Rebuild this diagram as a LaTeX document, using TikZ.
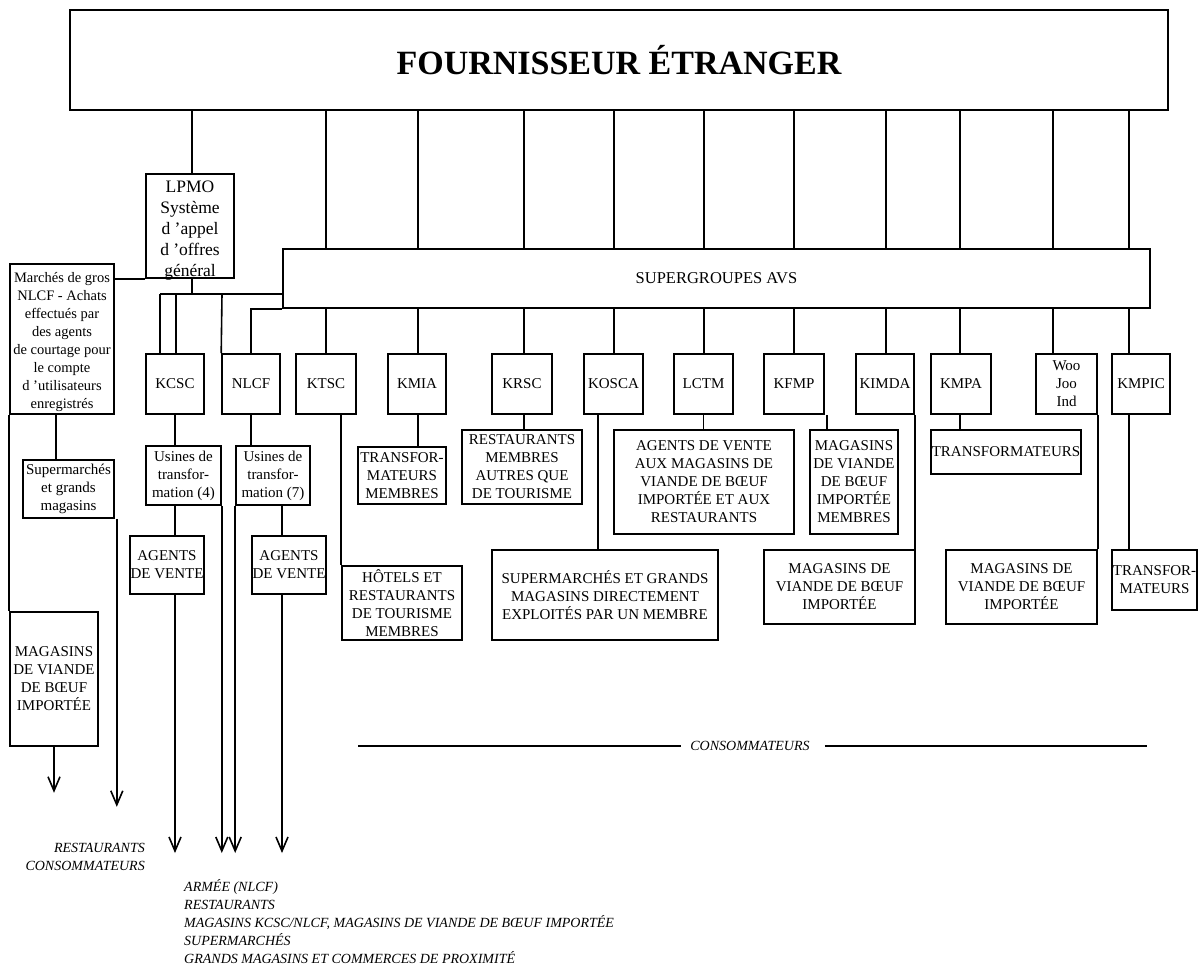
\documentclass[tikz,border=0pt]{standalone}
\usepackage{fontspec}
\setmainfont{Liberation Serif}
\usetikzlibrary{arrows.meta,calc}
\begin{document}
\begin{tikzpicture}[x=1pt,y=-1pt,
  every node/.style={inner sep=0pt, align=center},
  bx/.style={draw, line width=1.6pt, fill=white, font=\fontsize{15}{18}\selectfont},
  ln/.style={line width=1.6pt},
  arr/.style={line width=1.6pt, -{Straight Barb[length=14pt,width=12pt]}},
  lbl/.style={font=\fontsize{14}{18}\selectfont\itshape}]
\useasboundingbox (0,0) rectangle (1199,966);

% top level
\node[bx, minimum width=1098pt, minimum height=100pt, font=\fontsize{34}{40}\selectfont\bfseries] (top) at (619,60) {FOURNISSEUR ÉTRANGER};
\node[bx, minimum width=867pt, minimum height=59pt, font=\fontsize{16.5}{19}\selectfont] (sg) at (716.5,278.5) {SUPERGROUPES AVS};
\node[bx, minimum width=88pt, minimum height=104pt] (lpmo) at (190,226) {};
\node[font=\fontsize{17.5}{21}\selectfont] (lpmotext) at ($(lpmo.center)+(0,5)$) {LPMO\\Système\\d ’appel\\d ’offres\\général};
\node[bx, minimum width=104pt, minimum height=150pt, font=\fontsize{14.5}{18}\selectfont] (marches) at (62,339) {\rule{0pt}{17pt}Marchés de gros\\NLCF - Achats\\effectués par\\des agents\\de courtage pour\\le compte\\d ’utilisateurs\\enregistrés};

% row of members
\node[bx, minimum width=58pt, minimum height=60pt] (kcsc) at (175,384) {KCSC};
\node[bx, minimum width=58pt, minimum height=60pt] (nlcf) at (251,384) {NLCF};
\node[bx, minimum width=60pt, minimum height=60pt] (ktsc) at (326,384) {KTSC};
\node[bx, minimum width=58pt, minimum height=60pt] (kmia) at (417,384) {KMIA};
\node[bx, minimum width=60pt, minimum height=60pt] (krsc) at (522,384) {KRSC};
\node[bx, minimum width=59pt, minimum height=60pt] (kosca) at (613.5,384) {KOSCA};
\node[bx, minimum width=59pt, minimum height=60pt] (lctm) at (703.5,384) {LCTM};
\node[bx, minimum width=60pt, minimum height=60pt] (kfmp) at (794,384) {KFMP};
\node[bx, minimum width=58pt, minimum height=60pt] (kimda) at (885,384) {KIMDA};
\node[bx, minimum width=60pt, minimum height=60pt] (kmpa) at (961,384) {KMPA};
\node[bx, minimum width=61pt, minimum height=60pt] (woo) at (1066.5,384) {Woo\\Joo\\Ind};
\node[bx, minimum width=58pt, minimum height=60pt] (kmpic) at (1141,384) {KMPIC};

% second level
\node[bx, minimum width=88pt, minimum height=57pt] (tmm) at (402,475.5) {TRANSFOR-\\MATEURS\\MEMBRES};
\node[bx, minimum width=120pt, minimum height=74pt] (rmaq) at (522,467) {RESTAURANTS\\MEMBRES\\AUTRES QUE\\DE TOURISME};
\node[bx, minimum width=120pt, minimum height=74pt] (hotels) at (402,603) {HÔTELS ET\\RESTAURANTS\\DE TOURISME\\MEMBRES};
\node[bx, minimum width=226pt, minimum height=90pt] (smgm) at (605,595) {SUPERMARCHÉS ET GRANDS\\MAGASINS DIRECTEMENT\\EXPLOITÉS PAR UN MEMBRE};
\node[bx, minimum width=180pt, minimum height=104pt] (avm) at (704,482) {AGENTS DE VENTE\\AUX MAGASINS DE\\VIANDE DE BŒUF\\IMPORTÉE ET AUX\\RESTAURANTS};
\node[bx, minimum width=88pt, minimum height=104pt] (mvbim) at (854,482) {MAGASINS\\DE VIANDE\\DE BŒUF\\IMPORTÉE\\MEMBRES};
\node[bx, minimum width=151pt, minimum height=74pt] (mvbi1) at (839.5,587) {MAGASINS DE\\VIANDE DE BŒUF\\IMPORTÉE};
\node[bx, minimum width=150pt, minimum height=44pt] (transf) at (1006,452) {TRANSFORMATEURS};
\node[bx, minimum width=151pt, minimum height=74pt] (mvbi2) at (1021.5,587) {MAGASINS DE\\VIANDE DE BŒUF\\IMPORTÉE};
\node[bx, minimum width=85pt, minimum height=60pt] (tm2) at (1154.5,580) {TRANSFOR-\\MATEURS};

% left column
\node[bx, minimum width=75pt, minimum height=59pt] (usines4) at (183.5,475.5) {Usines de\\transfor-\\mation (4)};
\node[bx, minimum width=74pt, minimum height=59pt] (usines7) at (273,475.5) {Usines de\\transfor-\\mation (7)};
\node[bx, minimum width=74pt, minimum height=58pt] (agents1) at (167,565) {AGENTS\\DE VENTE};
\node[bx, minimum width=74pt, minimum height=58pt] (agents2) at (289,565) {AGENTS\\DE VENTE};
\node[bx, minimum width=91pt, minimum height=58pt] (superm) at (68.5,489) {Supermarchés\\et grands\\magasins};
\node[bx, minimum width=88pt, minimum height=134pt] (magasins) at (54,679) {MAGASINS\\DE VIANDE\\DE BŒUF\\IMPORTÉE};

% connectors from the supplier through the supergroups
\draw[ln] (top.south -| 192,0) -- (lpmo.north -| 192,0);
\foreach \n/\d in {ktsc/0,kmia/1,krsc/2,kosca/0.5,lctm/0.5,kfmp/0,kimda/1,kmpa/-1,woo/-13.5,kmpic/-12}{
  \draw[ln] ($(top.south -| \n.north)+(\d,0)$) -- ($(sg.north -| \n.north)+(\d,0)$);
  \draw[ln] ($(sg.south -| \n.north)+(\d,0)$) -- ($(\n.north)+(\d,0)$);
}

% second level connectors
\draw[ln] ($(kmia.south)+(1,0)$) -- ($(kmia.south |- tmm.north)+(1,0)$);
\draw[ln] ($(krsc.south)+(2,0)$) -- ($(krsc.south |- rmaq.north)+(2,0)$);
\draw[ln] (hotels.north west |- ktsc.south) -- (hotels.north west);
\draw[ln] ($(kosca.south)+(-15.5,0)$) -- ($(kosca.south |- smgm.north)+(-15.5,0)$);
\draw[ln] (lctm.south) -- (lctm.south |- avm.north);
\draw[ln] ($(kfmp.south east)+(2,0)$) -- ($(kfmp.south east |- mvbim.north)+(2,0)$);
\draw[ln] (kimda.south east) -- (kimda.south east |- mvbi1.north);
\draw[ln] ($(kmpa.south)+(-1,0)$) -- ($(kmpa.south |- transf.north)+(-1,0)$);
\draw[ln] (woo.south east) -- (woo.south east |- mvbi2.north);
\draw[ln] ($(kmpic.south)+(-12,0)$) -- ($(kmpic.south |- tm2.north)+(-12,0)$);

% left side connectors
\coordinate (jL) at (160,294);
\coordinate (jK) at (176,294);
\coordinate (jN) at (222,294);
\draw[ln] (lpmo.south -| 192,0) -- (jL -| 192,0);
\draw[ln] (jL) -- (sg.west |- jL);
\draw[ln] (jL) -- (jL |- kcsc.north);
\draw[ln] (jK) -- (jK |- kcsc.north);
\draw[ln] (jN) -- (nlcf.north west);
\draw[ln] (sg.south west) -| (nlcf.north);
\draw[ln] (lpmo.south west) -- (lpmo.south west -| marches.east);
\draw[ln] (kcsc.south) -- (kcsc.south |- usines4.north);
\draw[ln] (nlcf.south) -- (nlcf.south |- usines7.north);
\draw[ln] (kcsc.south |- usines4.south) -- (kcsc.south |- agents1.north);
\coordinate (a2) at ($(agents2.north)+(-7,0)$);
\draw[ln] (a2 |- usines7.south) -- (a2);
\coordinate (mx) at ($(marches.south)+(-6,0)$);
\draw[ln] (mx) -- (mx |- superm.north);
\draw[ln] (marches.south west) -- (magasins.north west);

% arrows to consumers
\coordinate (tip) at (0,853);
\coordinate (tipM) at ($(magasins.south)+(0,46)$);
\coordinate (tipS) at ($(superm.south east)+(2,288)$);
\draw[arr] (kcsc.south |- agents1.south) -- (kcsc.south |- tip);
\draw[arr] (usines4.south east) -- (usines4.south east |- tip);
\draw[arr] (usines7.south west) -- (usines7.south west |- tip);
\draw[arr] (a2 |- agents2.south) -- (a2 |- tip);
\draw[arr] (magasins.south) -- (tipM);
\draw[arr] ($(superm.south east)+(2,0)$) -- (tipS);

% labels
\node[lbl, anchor=east, align=right] (rc) at (145,857) {RESTAURANTS\\CONSOMMATEURS};
\node[lbl, anchor=north west, align=left] (dest) at (184,879) {ARMÉE (NLCF)\\RESTAURANTS\\MAGASINS KCSC/NLCF, MAGASINS DE VIANDE DE BŒUF IMPORTÉE\\SUPERMARCHÉS\\GRANDS MAGASINS ET COMMERCES DE PROXIMITÉ};
\node[lbl] (cons) at (750,746) {CONSOMMATEURS};
\coordinate (cL) at (358,746);
\coordinate (cR) at (1147,746);
\draw[ln] (cL) -- ($(cons.west)+(-9,0)$);
\draw[ln] ($(cons.east)+(15,0)$) -- (cR);
\end{tikzpicture}
\end{document}
